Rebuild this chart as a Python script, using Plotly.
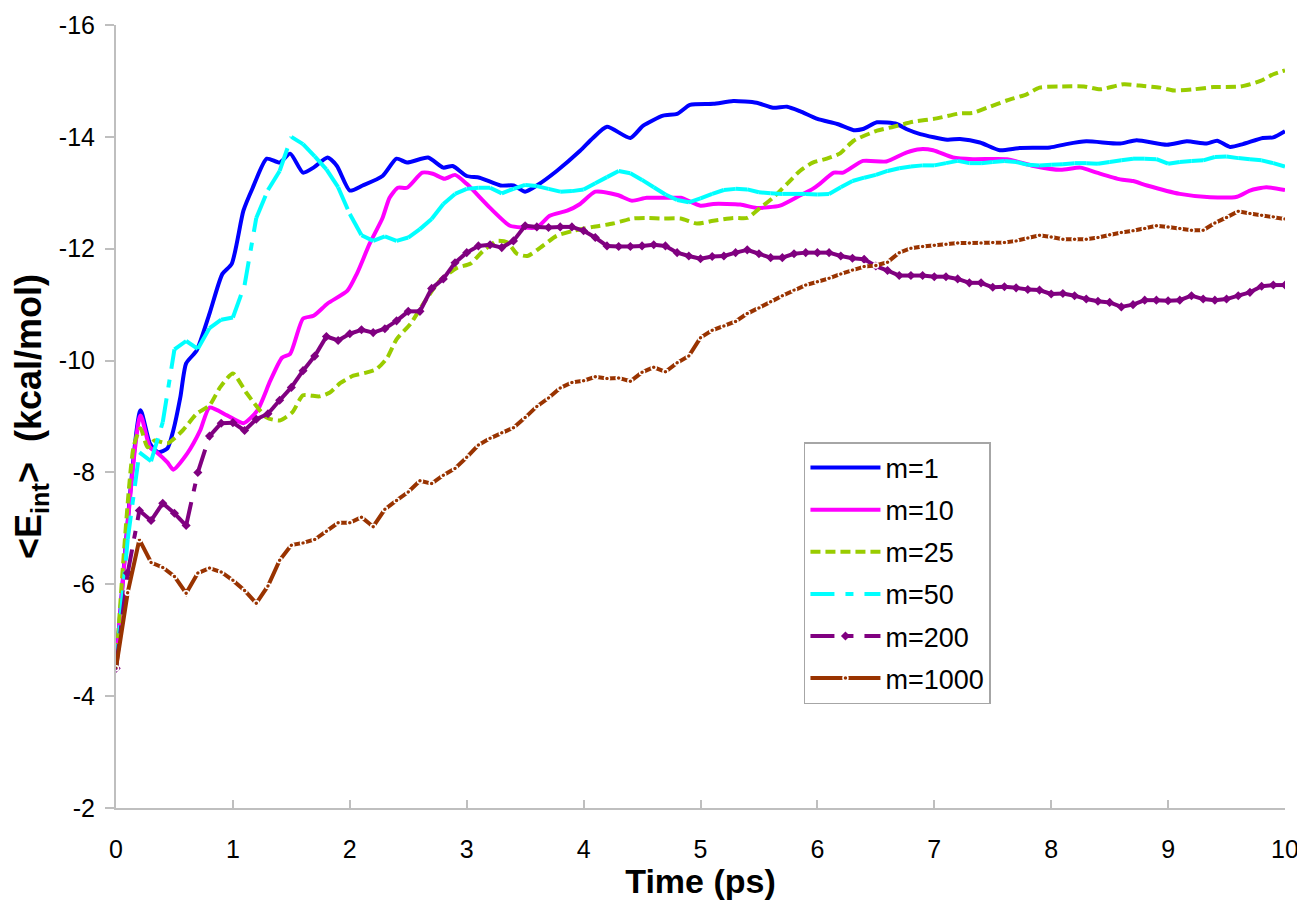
import plotly.graph_objects as go

# ---------------- data ----------------
series_names = ["m=1", "m=10", "m=25", "m=50", "m=200", "m=1000"]

m1_x = [0, 0.21, 0.29, 0.36, 0.44, 0.49, 0.55, 0.60, 0.69, 0.80, 0.91, 0.99, 1.09, 1.17, 1.29, 1.40, 1.49, 1.60, 1.69, 1.81,
        1.89, 2.00, 2.11, 2.28, 2.40, 2.49, 2.67, 2.80, 2.88, 3.00, 3.11, 3.29, 3.40, 3.50, 3.60, 3.77, 3.97, 4.08, 4.20, 4.40,
        4.51, 4.68, 4.80, 4.91, 5.11, 5.28, 5.48, 5.62, 5.74, 5.85, 6.00, 6.17, 6.31, 6.39, 6.51, 6.68, 6.76, 6.88, 7.11, 7.22,
        7.39, 7.56, 7.73, 7.99, 8.13, 8.30, 8.59, 8.73, 8.99, 9.16, 9.33, 9.42, 9.53, 9.64, 9.81, 9.90, 10.0]
m1_y = [-4.5, -9.11, -8.52, -8.36, -8.43, -8.75, -9.34, -9.95, -10.18, -10.84, -11.55, -11.73, -12.68, -13.09, -13.61, -13.54, -13.70, -13.36, -13.45, -13.63,
        -13.48, -13.04, -13.13, -13.30, -13.61, -13.54, -13.63, -13.45, -13.48, -13.30, -13.27, -13.13, -13.13, -13.02, -13.13, -13.39, -13.75, -13.98, -14.18, -13.98,
        -14.20, -14.38, -14.41, -14.57, -14.59, -14.64, -14.61, -14.52, -14.54, -14.46, -14.32, -14.23, -14.12, -14.14, -14.26, -14.23, -14.14, -14.05, -13.95, -13.96,
        -13.90, -13.76, -13.80, -13.81, -13.87, -13.92, -13.88, -13.94, -13.86, -13.92, -13.88, -13.93, -13.82, -13.87, -13.98, -13.99, -14.10]

m10_x = [0, 0.21, 0.29, 0.36, 0.44, 0.49, 0.61, 0.72, 0.80, 0.95, 1.09, 1.21, 1.32, 1.42, 1.49, 1.60, 1.69, 1.81, 1.98, 2.06,
         2.17, 2.28, 2.34, 2.41, 2.49, 2.62, 2.71, 2.81, 2.90, 3.00, 3.20, 3.37, 3.48, 3.60, 3.71, 3.86, 3.97, 4.10, 4.29, 4.41,
         4.54, 4.74, 4.83, 5.00, 5.11, 5.34, 5.48, 5.68, 5.85, 5.96, 6.02, 6.14, 6.22, 6.39, 6.59, 6.76, 6.88, 6.99, 7.16, 7.33,
         7.62, 7.85, 8.08, 8.25, 8.39, 8.59, 8.70, 8.82, 9.10, 9.36, 9.59, 9.70, 9.84, 10.0]
m10_y = [-4.5, -9.02, -8.45, -8.34, -8.18, -8.05, -8.34, -8.75, -9.16, -9.02, -8.88, -9.11, -9.64, -10.05, -10.12, -10.75, -10.80, -11.02, -11.25, -11.55,
         -12.09, -12.55, -12.91, -13.09, -13.09, -13.36, -13.34, -13.25, -13.32, -13.16, -12.73, -12.41, -12.38, -12.38, -12.59, -12.68, -12.80, -13.02, -12.96, -12.86,
         -12.91, -12.91, -12.91, -12.77, -12.80, -12.79, -12.73, -12.77, -12.95, -13.07, -13.16, -13.36, -13.36, -13.57, -13.56, -13.72, -13.78, -13.76, -13.63, -13.60,
         -13.60, -13.48, -13.41, -13.45, -13.36, -13.24, -13.21, -13.13, -12.98, -12.92, -12.93, -13.04, -13.10, -13.05]

m25_x = [0, 0.15, 0.21, 0.27, 0.33, 0.44, 0.57, 0.69, 0.80, 0.89, 1.00, 1.12, 1.29, 1.40, 1.51, 1.60, 1.74, 1.83, 1.92, 2.03,
         2.13, 2.23, 2.32, 2.40, 2.52, 2.63, 2.77, 2.92, 3.03, 3.14, 3.26, 3.35, 3.43, 3.52, 3.63, 3.77, 3.91, 4.08, 4.25, 4.42,
         4.54, 4.68, 4.83, 4.97, 5.11, 5.28, 5.40, 5.51, 5.62, 5.74, 5.85, 5.96, 6.08, 6.19, 6.31, 6.51, 6.65, 6.82, 7.02, 7.22,
         7.33, 7.45, 7.62, 7.79, 7.90, 8.08, 8.28, 8.42, 8.62, 8.79, 8.93, 9.05, 9.22, 9.39, 9.62, 9.79, 9.90, 10.0]
m25_y = [-4.5, -8.45, -8.79, -8.45, -8.57, -8.52, -8.75, -9.05, -9.20, -9.52, -9.77, -9.41, -8.98, -8.93, -9.08, -9.38, -9.36, -9.43, -9.60, -9.73,
         -9.78, -9.85, -10.05, -10.38, -10.66, -11.02, -11.43, -11.66, -11.73, -11.96, -12.14, -12.11, -11.91, -11.87, -12.02, -12.23, -12.32, -12.39, -12.45, -12.54,
         -12.55, -12.54, -12.54, -12.45, -12.50, -12.55, -12.55, -12.73, -12.91, -13.16, -13.39, -13.54, -13.61, -13.70, -13.93, -14.11, -14.18, -14.27, -14.33, -14.42,
         -14.43, -14.52, -14.65, -14.76, -14.88, -14.90, -14.90, -14.85, -14.94, -14.91, -14.88, -14.83, -14.85, -14.89, -14.90, -15.00, -15.12, -15.19]

# time grid (0.1 ps) for the series sampled every 0.1 ps
t_grid = [round(0.1 * i, 1) for i in range(101)]

m50_y = [-4.5, -6.8, -8.36, -8.2, -8.9, -10.2, -10.35, -10.21, -10.58, -10.73,
         -10.77, -11.35, -12.55, -13.05, -13.39, -14.0, -13.87, -13.65, -13.42, -13.1,
         -12.62, -12.24, -12.14, -12.22, -12.14, -12.2, -12.35, -12.53, -12.8, -12.98,
         -13.07, -13.09, -13.09, -12.99, -13.07, -13.14, -13.12, -13.07, -13.02, -13.03,
         -13.06, -13.17, -13.28, -13.39, -13.35, -13.23, -13.1, -12.97, -12.87, -12.83,
         -12.9, -12.98, -13.05, -13.07, -13.06, -13.01, -12.99, -12.98, -12.98, -12.98,
         -12.97, -12.98, -13.1, -13.21, -13.27, -13.32, -13.39, -13.44, -13.47, -13.49,
         -13.49, -13.53, -13.57, -13.53, -13.53, -13.55, -13.57, -13.55, -13.5, -13.49,
         -13.5, -13.51, -13.53, -13.53, -13.52, -13.55, -13.58, -13.61, -13.61, -13.6,
         -13.52, -13.55, -13.57, -13.58, -13.64, -13.65, -13.62, -13.6, -13.58, -13.53,
         -13.47]

m200_y = [-4.5, -6.2, -7.32, -7.14, -7.45, -7.27, -7.05, -8.0, -8.65, -8.88,
          -8.89, -8.75, -8.95, -9.05, -9.29, -9.52, -9.82, -10.08, -10.43, -10.36,
          -10.48, -10.55, -10.50, -10.57, -10.71, -10.88, -10.88, -11.29, -11.46, -11.75,
          -11.93, -12.05, -12.07, -12.02, -12.14, -12.41, -12.39, -12.38, -12.39, -12.39,
          -12.32, -12.20, -12.05, -12.04, -12.04, -12.05, -12.07, -12.05, -11.93, -11.87,
          -11.82, -11.86, -11.87, -11.93, -11.98, -11.91, -11.84, -11.84, -11.91, -11.93,
          -11.93, -11.93, -11.87, -11.83, -11.81, -11.69, -11.61, -11.52, -11.52, -11.52,
          -11.50, -11.50, -11.46, -11.39, -11.39, -11.31, -11.32, -11.30, -11.27, -11.26,
          -11.19, -11.20, -11.16, -11.10, -11.06, -11.04, -10.96, -11.00, -11.08, -11.08,
          -11.07, -11.08, -11.16, -11.10, -11.08, -11.10, -11.16, -11.22, -11.33, -11.35,
          -11.35]

m1000_y = [-4.5, -5.85, -6.8, -6.39, -6.3, -6.14, -5.84, -6.2, -6.29, -6.22,
           -6.07, -5.89, -5.66, -5.97, -6.43, -6.7, -6.74, -6.8, -6.95, -7.1,
           -7.1, -7.2, -7.03, -7.34, -7.5, -7.65, -7.85, -7.8, -7.95, -8.07,
           -8.27, -8.49, -8.61, -8.71, -8.8, -8.98, -9.18, -9.33, -9.51, -9.61,
           -9.64, -9.71, -9.68, -9.69, -9.63, -9.79, -9.88, -9.8, -9.96, -10.08,
           -10.41, -10.54, -10.62, -10.7, -10.84, -10.94, -11.05, -11.16, -11.26, -11.35,
           -11.41, -11.47, -11.55, -11.62, -11.68, -11.70, -11.76, -11.93, -12.01, -12.04,
           -12.06, -12.08, -12.10, -12.10, -12.10, -12.11, -12.11, -12.14, -12.19, -12.24,
           -12.21, -12.17, -12.17, -12.17, -12.2, -12.25, -12.29, -12.32, -12.36, -12.41,
           -12.39, -12.36, -12.33, -12.33, -12.46, -12.56, -12.67, -12.63, -12.6, -12.57,
           -12.53]

x_ticks = [0, 1, 2, 3, 4, 5, 6, 7, 8, 9, 10]
y_ticks = [-16, -14, -12, -10, -8, -6, -4, -2]
y_tick_labels = ["-16", "-14", "-12", "-10", "-8", "-6", "-4", "-2"]

# ---------------- styles ----------------
colors = {"m=1": "#0000FF", "m=10": "#FF00FF", "m=25": "#99CC00",
          "m=50": "#00FFFF", "m=200": "#800080", "m=1000": "#993300"}
LW = 4
FONT = "Arial, Liberation Sans, sans-serif"
longdashdot = "24px,11px,8px,11px"

fig = go.Figure()


def add_smooth(x, y, name, dash="solid"):
    fig.add_trace(go.Scatter(x=x, y=y, name=name, legendgroup=name, mode="lines",
                             line=dict(color=colors[name], width=LW, dash=dash,
                                       shape="spline", smoothing=0.6),
                             hoverinfo="skip"))


def add_segmented(x, y, name, dash, marker=None):
    # Excel restarts the dash pattern at each data point
    for i in range(len(x) - 1):
        first = i == 0
        mode = "lines+markers" if (first and marker) else "lines"
        fig.add_trace(go.Scatter(x=x[i:i + 2], y=y[i:i + 2], name=name, legendgroup=name,
                                 showlegend=first, mode=mode,
                                 marker=marker if marker else None,
                                 line=dict(color=colors[name], width=LW, dash=dash),
                                 hoverinfo="skip"))
    if marker:
        fig.add_trace(go.Scatter(x=x, y=y, name=name, legendgroup=name, showlegend=False,
                                 mode="markers", marker=marker, hoverinfo="skip"))


add_smooth(m1_x, m1_y, "m=1")
add_smooth(m10_x, m10_y, "m=10")
add_smooth(m25_x, m25_y, "m=25", dash="10px,5px")
add_segmented(t_grid, m50_y, "m=50", longdashdot)
add_segmented(t_grid, m200_y, "m=200", longdashdot,
              marker=dict(symbol="diamond", size=7, color=colors["m=200"]))
fig.add_trace(go.Scatter(x=t_grid, y=m1000_y, name="m=1000", legendgroup="m=1000",
                         mode="lines+markers",
                         line=dict(color=colors["m=1000"], width=LW),
                         marker=dict(symbol="circle-open", size=5,
                                     line=dict(color="white", width=1.5), color="white"),
                         hoverinfo="skip"))

# the page body adds an 8px margin, so the figure is sized to fit the window
axis_grey = "#BFBFBF"
fig.update_layout(
    template="none",
    width=1297, height=892,
    margin=dict(l=108, r=20, t=17, b=92, pad=0),
    paper_bgcolor="white", plot_bgcolor="white",
    font=dict(family=FONT, color="black"),
    showlegend=True,
    legend=dict(x=0.5885, y=0.4674, xanchor="left", yanchor="top",
                bordercolor="#A6A6A6", borderwidth=1.5, bgcolor="white",
                font=dict(size=27, family=FONT), tracegroupgap=4,
                itemwidth=70),
    xaxis=dict(range=[0, 10], tickvals=x_ticks, ticks="inside", ticklen=8, tickwidth=1.5,
               tickcolor=axis_grey, showline=True, linecolor=axis_grey, linewidth=2,
               showgrid=False, zeroline=False, tickfont=dict(size=25, family=FONT),
               ticklabelstandoff=18, ticklabeloverflow="allow", automargin=False,
               title=dict(text="<b>Time (ps)</b>", font=dict(size=34, family=FONT), standoff=9)),
    yaxis=dict(range=[-2, -16], tickvals=y_ticks, ticktext=y_tick_labels,
               ticks="outside", ticklen=9, tickwidth=1.5,
               tickcolor=axis_grey, showline=True, linecolor=axis_grey, linewidth=2,
               showgrid=False, zeroline=False, tickfont=dict(size=25, family=FONT),
               ticklabelstandoff=5, automargin=False,
               title=dict(text="<b>&lt;E<sub>int</sub>&gt;  (kcal/mol)</b>",
                          font=dict(size=36, family=FONT), standoff=18)),
)

fig.write_html("out.html")
